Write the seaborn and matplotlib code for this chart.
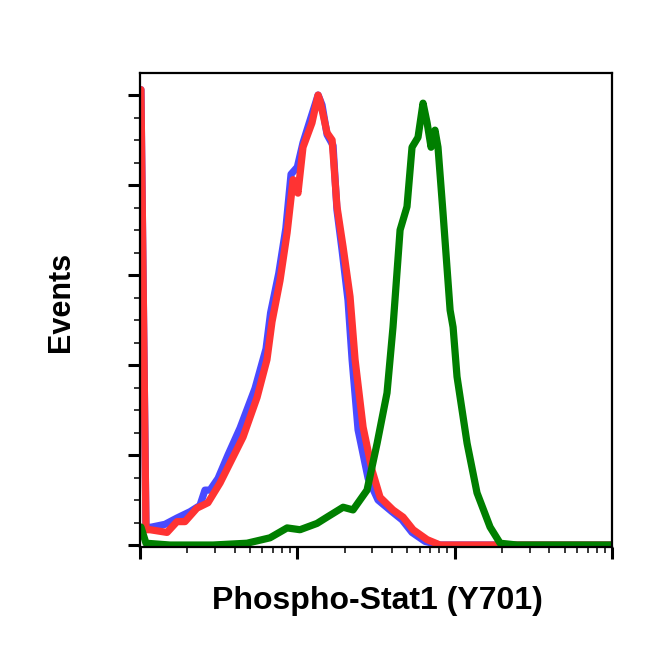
import numpy as np
import pandas as pd
import matplotlib
matplotlib.use("Agg")
import matplotlib.pyplot as plt
import matplotlib.ticker as mticker
import seaborn as sns

# histogram traces, x as log10 of fluorescence (3 decades), y in tick units
blue_log = [0.006, 0.038, 0.076, 0.159, 0.235, 0.318, 0.381, 0.413, 0.445, 0.496,
            0.559, 0.636, 0.731, 0.801, 0.830, 0.882, 0.927, 0.960, 1.000, 1.036,
            1.081, 1.132, 1.157, 1.189, 1.227, 1.252, 1.284, 1.322, 1.348, 1.386,
            1.450, 1.513, 1.602, 1.666, 1.729, 1.812, 1.907, 3.0]
blue_cnt = [5.06, 0.19, 0.20, 0.23, 0.30, 0.37, 0.44, 0.61, 0.61, 0.74,
            1.00, 1.30, 1.74, 2.18, 2.58, 3.02, 3.52, 4.12, 4.20, 4.47,
            4.72, 5.00, 4.89, 4.56, 4.44, 3.72, 3.28, 2.72, 2.06, 1.28,
            0.74, 0.50, 0.37, 0.28, 0.14, 0.04, 0.0, 0.0]

red_log = [0.006, 0.038, 0.064, 0.172, 0.235, 0.286, 0.362, 0.432, 0.509, 0.572,
           0.655, 0.744, 0.807, 0.839, 0.890, 0.935, 0.973, 1.004, 1.036, 1.093,
           1.132, 1.144, 1.189, 1.221, 1.252, 1.291, 1.335, 1.367, 1.418, 1.475,
           1.526, 1.608, 1.672, 1.736, 1.825, 1.907, 3.0]
red_cnt = [5.06, 0.17, 0.17, 0.14, 0.26, 0.26, 0.41, 0.47, 0.69, 0.91,
           1.20, 1.64, 2.06, 2.48, 2.94, 3.47, 4.06, 3.91, 4.42, 4.69,
           5.00, 4.94, 4.58, 4.50, 3.76, 3.31, 2.76, 2.06, 1.31, 0.83,
           0.53, 0.39, 0.31, 0.17, 0.06, 0.0, 0.0]

green_log = [0.006, 0.038, 0.191, 0.305, 0.464, 0.680, 0.826, 0.935, 1.017, 1.125,
             1.189, 1.291, 1.354, 1.443, 1.507, 1.570, 1.608, 1.653, 1.697, 1.729,
             1.767, 1.799, 1.825, 1.850, 1.875, 1.894, 1.926, 1.971, 1.990, 2.015,
             2.079, 2.142, 2.225, 2.289, 2.397, 3.0]
green_cnt = [0.20, 0.02, 0.0, 0.0, 0.0, 0.02, 0.08, 0.19, 0.17, 0.24,
             0.31, 0.42, 0.39, 0.61, 1.13, 1.69, 2.42, 3.50, 3.76, 4.42,
             4.53, 4.91, 4.69, 4.42, 4.61, 4.42, 3.69, 2.61, 2.42, 1.87,
             1.13, 0.58, 0.20, 0.02, 0.0, 0.0]

series = [("blue", blue_log, blue_cnt, "#4a4aff"),
          ("red", red_log, red_cnt, "#ff3333"),
          ("green", green_log, green_cnt, "#007f00")]

sns.set_style("white")
plt.rcParams['font.family'] = ['Liberation Sans', 'DejaVu Sans']
plt.rcParams['text.color'] = 'black'
plt.rcParams['axes.labelcolor'] = 'black'

fig = plt.figure(figsize=(6.52, 6.53), dpi=100)
ax = fig.add_axes([140 / 652, 106 / 653, 472 / 652, 474 / 653])

for name, lg, cnt, col in series:
    df = pd.DataFrame({'fl': np.power(10.0, lg), 'events': cnt})
    sns.lineplot(data=df, x='fl', y='events', color=col, lw=5.2, ax=ax,
                 sort=False, estimator=None, solid_joinstyle='round',
                 solid_capstyle='round')

ax.set_xscale('log')
ax.set_xlim(1, 1000)
ax.set_ylim(-0.022, 5.245)

ax.xaxis.set_major_locator(mticker.LogLocator(base=10))
ax.xaxis.set_minor_locator(mticker.LogLocator(base=10, subs=np.arange(2, 10)))
ax.yaxis.set_major_locator(mticker.MultipleLocator(1))
ax.yaxis.set_minor_locator(mticker.MultipleLocator(0.25))

ax.tick_params(which='major', direction='out', length=8.5, width=2.2,
               color='black', labelleft=False, labelbottom=False,
               left=True, bottom=True)
ax.tick_params(which='minor', direction='out', length=4.3, width=1.1,
               color='black', left=True, bottom=True)

for sp in ax.spines.values():
    sp.set_visible(True)
    sp.set_color('black')
    sp.set_linewidth(1.6)

ax.set_xlabel('Phospho-Stat1 (Y701)', fontsize=23, fontweight='bold',
              va='center', color='black')
ax.set_ylabel('Events', fontsize=22, fontweight='bold', va='center',
              color='black')
ax.xaxis.set_label_coords(0.502, -0.114)
ax.yaxis.set_label_coords(-0.167, 0.517)

fig.savefig('out.png', dpi=100)
